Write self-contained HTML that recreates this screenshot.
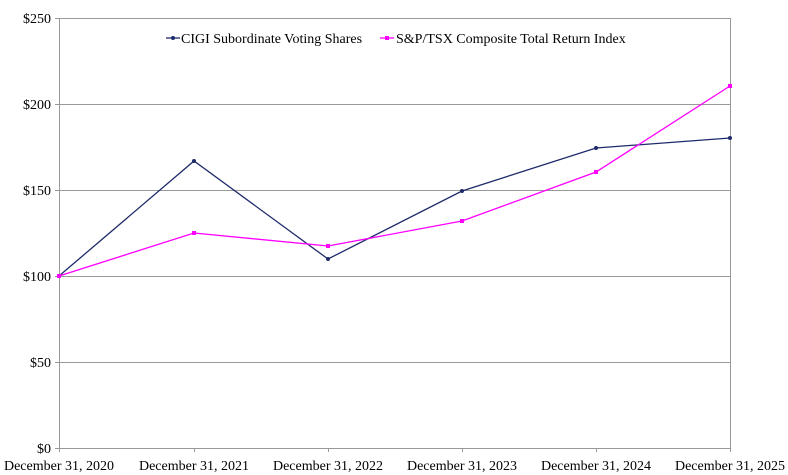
<!DOCTYPE html><html><head><style>body{margin:0;background:#fff}svg{display:block}text{font-family:"Liberation Serif",serif;font-size:14px;fill:#000}</style></head><body>
<svg width="788" height="475" xmlns="http://www.w3.org/2000/svg">
<g stroke="#999" stroke-width="1" fill="none">
<line x1="55" y1="18.5" x2="730" y2="18.5"/><line x1="55" y1="104.5" x2="730" y2="104.5"/><line x1="55" y1="190.5" x2="730" y2="190.5"/><line x1="55" y1="276.5" x2="730" y2="276.5"/><line x1="55" y1="362.5" x2="730" y2="362.5"/><line x1="55" y1="448.5" x2="730" y2="448.5"/>
<line x1="59.5" y1="18" x2="59.5" y2="452"/><line x1="730.5" y1="18" x2="730.5" y2="452"/>
<line x1="194.5" y1="448" x2="194.5" y2="452"/><line x1="328.5" y1="448" x2="328.5" y2="452"/><line x1="462.5" y1="448" x2="462.5" y2="452"/><line x1="596.5" y1="448" x2="596.5" y2="452"/>
</g>
<g text-anchor="end"><text x="51" y="23">$250</text><text x="51" y="109">$200</text><text x="51" y="195">$150</text><text x="51" y="281">$100</text><text x="51" y="367">$50</text><text x="51" y="453">$0</text></g>
<g text-anchor="middle"><text x="59" y="470">December 31, 2020</text><text x="194" y="470">December 31, 2021</text><text x="328" y="470">December 31, 2022</text><text x="462" y="470">December 31, 2023</text><text x="596" y="470">December 31, 2024</text><text x="730" y="470">December 31, 2025</text></g>
<polyline points="59,276 194,161 328,259 462,191 596,148 730,138" fill="none" stroke="#1f2a6b" stroke-width="1.3"/>
<polyline points="59,276 194,233 328,246 462,221 596,172 730,86" fill="none" stroke="#ff00ff" stroke-width="1.3"/>
<g fill="#1f2a6b"><circle cx="59" cy="276" r="2"/><circle cx="194" cy="161" r="2"/><circle cx="328" cy="259" r="2"/><circle cx="462" cy="191" r="2"/><circle cx="596" cy="148" r="2"/><circle cx="730" cy="138" r="2"/></g>
<g fill="#ff00ff"><rect x="57" y="274" width="4" height="4"/><rect x="192" y="231" width="4" height="4"/><rect x="326" y="244" width="4" height="4"/><rect x="460" y="219" width="4" height="4"/><rect x="594" y="170" width="4" height="4"/><rect x="728" y="84" width="4" height="4"/></g>
<line x1="166" y1="38" x2="180" y2="38" stroke="#1f2a6b" stroke-width="1.3"/><circle cx="173" cy="38" r="2" fill="#1f2a6b"/>
<text x="181" y="43">CIGI Subordinate Voting Shares</text>
<line x1="380" y1="38" x2="394" y2="38" stroke="#ff00ff" stroke-width="1.3"/><rect x="385" y="36" width="4" height="4" fill="#ff00ff"/>
<text x="396" y="43">S&amp;P/TSX Composite Total Return Index</text>
</svg></body></html>
